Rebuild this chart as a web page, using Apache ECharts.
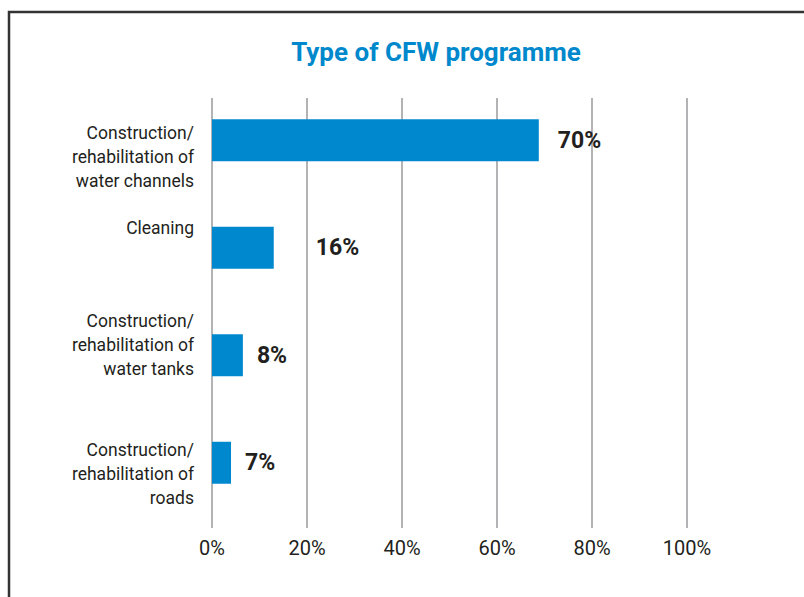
<!DOCTYPE html>
<html>
<head>
<meta charset="utf-8">
<script src="https://cdn.jsdelivr.net/npm/echarts@6/dist/echarts.min.js"></script>
<style>
  html, body { margin: 0; padding: 0; background: #fff; }
  #Chart { width: 804px; height: 597px; }
</style>
</head>
<body>
<div id="Chart"></div>
<script>
const categories = [
  "Construction/\nrehabilitation of\nwater channels",
  "Cleaning",
  "Construction/\nrehabilitation of\nwater tanks",
  "Construction/\nrehabilitation of\nroads"
]
// bar lengths as drawn in the picture
const barValues = [68.8, 13.0, 6.5, 4.0]
// printed value labels
const valueLabels = ["70%", "16%", "8%", "7%"]
const tickLabels = ["0%", "20%", "40%", "60%", "80%", "100%"]

const chart = echarts.init(document.getElementById("Chart"), null, { renderer: "svg" })
const font = "Roboto, \"Noto Sans\", sans-serif"
const ink = "#231f20"

// spacer line (top or bottom) so each label sits where it does in the print
const labelGap = [[34, 0], [0, 40], [0, 20], [22, 0]]
const labelDist = [19, 42, 14, 14]

const option = {
  animation: false,
  textStyle: { fontFamily: font },
  title: {
    text: "Type of CFW programme",
    left: 431,
    textAlign: "center",
    top: 34,
    textStyle: { color: "#0088cc", fontSize: 26, fontWeight: "bold", fontFamily: font }
  },
  graphic: [
    {
      type: "polyline",
      shape: { points: [[9, 597], [9, 12], [804, 12]] },
      style: { stroke: "#333", lineWidth: 2.5, fill: null }
    }
  ],
  grid: [
    { left: 212, width: 475, top: 98, height: 430 },
    { left: 212, width: 475, top: 86.5, height: 430 }
  ],
  xAxis: [
    {
      gridIndex: 0,
      type: "value",
      min: 0,
      max: 100,
      interval: 20,
      axisLine: { show: false },
      axisTick: { show: false },
      splitLine: { lineStyle: { color: "#9a9a9e", width: 1.5 } },
      axisLabel: {
        margin: 10,
        color: ink,
        fontSize: 20,
        formatter: (v) => tickLabels[Math.round(v / 20)]
      }
    },
    {
      gridIndex: 1,
      type: "value",
      min: 0,
      max: 100,
      show: false
    }
  ],
  yAxis: [
    {
      gridIndex: 0,
      type: "category",
      data: categories,
      show: false
    },
    {
      gridIndex: 1,
      type: "category",
      inverse: true,
      data: categories,
      axisLine: { show: false },
      axisTick: { show: false },
      axisLabel: {
        margin: 18,
        color: ink,
        fontSize: 17.5,
        align: "right",
        formatter: (value, index) => {
          const [top, bottom] = labelGap[index]
          let lines = value.split("\n").map(l => `{t|${l}}`)
          if (top) lines.unshift(`{g${index}| }`)
          if (bottom) lines.push(`{g${index}| }`)
          return lines.join("\n")
        },
        rich: {
          t: { fontSize: 17.5, lineHeight: 24, color: ink, align: "right" },
          g0: { fontSize: 1, lineHeight: labelGap[0][0] },
          g1: { fontSize: 1, lineHeight: labelGap[1][1] },
          g2: { fontSize: 1, lineHeight: labelGap[2][1] },
          g3: { fontSize: 1, lineHeight: labelGap[3][0] }
        }
      }
    }
  ],
  series: [
    {
      type: "bar",
      xAxisIndex: 1,
      yAxisIndex: 1,
      barWidth: 42,
      itemStyle: { color: "#0088cf" },
      data: barValues.map((v, i) => ({
        value: v,
        label: {
          show: true,
          position: "right",
          distance: labelDist[i],
          formatter: valueLabels[i],
          color: ink,
          fontSize: 23,
          fontWeight: "bold"
        }
      }))
    }
  ]
}
chart.setOption(option)
</script>
</body>
</html>
